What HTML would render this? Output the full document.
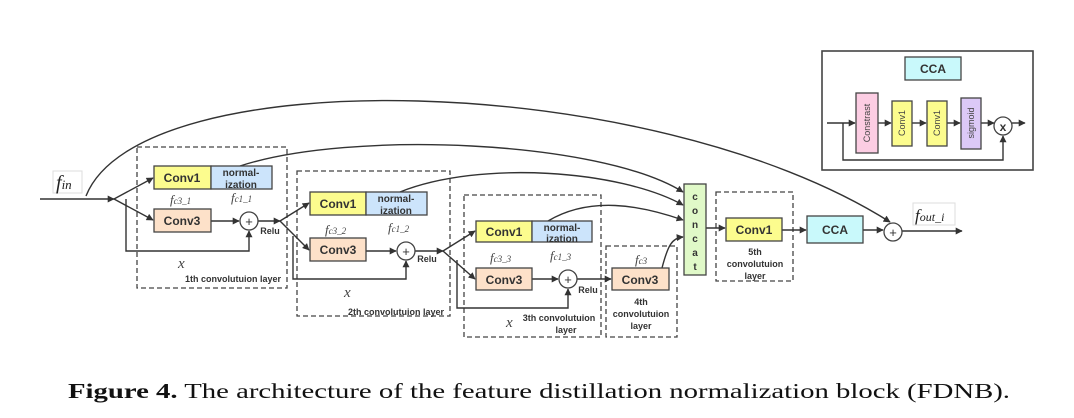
<!DOCTYPE html>
<html><head><meta charset="utf-8"><style>
body{margin:0;background:#fff;}
svg{display:block;}
.b{font-family:"Liberation Sans",sans-serif;font-weight:bold;fill:#333;}
.m{font-family:"Liberation Serif",serif;font-style:italic;fill:#444;}
</style></head><body>
<svg width="1074" height="418" viewBox="0 0 1074 418" xmlns="http://www.w3.org/2000/svg">
<defs><marker id="a" viewBox="0 0 10 10" refX="9" refY="5" markerWidth="9" markerHeight="7" orient="auto" markerUnits="userSpaceOnUse"><path d="M0,0L10,5L0,10z" fill="#333"/></marker></defs>
<g fill="none" stroke="#444" stroke-width="1.3" stroke-dasharray="5,3">
<rect x="137" y="147" width="150" height="141"/>
<rect x="297" y="171" width="153" height="145"/>
<rect x="464" y="195" width="137" height="142"/>
<rect x="606" y="246" width="71" height="91"/>
<rect x="716" y="192" width="77" height="89"/>
</g>
<g stroke="#333" stroke-width="1.4" fill="none">
<path d="M40,199H114" marker-end="url(#a)"/>
<path d="M114,199L153,178" marker-end="url(#a)"/>
<path d="M114,199L153,220" marker-end="url(#a)"/>
<path d="M126,199V251H249V231" marker-end="url(#a)"/>
<path d="M211,221H239" marker-end="url(#a)"/>
<path d="M258,221H280" marker-end="url(#a)"/>
<path d="M280,221L309,203" marker-end="url(#a)"/>
<path d="M280,221L309,250" marker-end="url(#a)"/>
<path d="M293,236V279H406V261" marker-end="url(#a)"/>
<path d="M366,251H396" marker-end="url(#a)"/>
<path d="M415,251H443" marker-end="url(#a)"/>
<path d="M443,251L475,231" marker-end="url(#a)"/>
<path d="M443,251L475,279" marker-end="url(#a)"/>
<path d="M457,260V308H568V289" marker-end="url(#a)"/>
<path d="M532,279H558" marker-end="url(#a)"/>
<path d="M577,279H611" marker-end="url(#a)"/>
<path d="M86,196C140,60 650,70 890,222" marker-end="url(#a)"/>
<path d="M240,166C350,130 600,140 683,192" marker-end="url(#a)"/>
<path d="M400,192C480,160 620,170 683,205" marker-end="url(#a)"/>
<path d="M548,221C590,196 640,205 683,220" marker-end="url(#a)"/>
<path d="M662,268C668,245 672,238 683,237" marker-end="url(#a)"/>
<path d="M706,228H725" marker-end="url(#a)"/>
<path d="M782,230H806" marker-end="url(#a)"/>
<path d="M863,230H883" marker-end="url(#a)"/>
<path d="M902,231H962" marker-end="url(#a)"/>
<path d="M827,123H855" marker-end="url(#a)"/>
<path d="M878,123H891" marker-end="url(#a)"/>
<path d="M912,123H926" marker-end="url(#a)"/>
<path d="M947,123H960" marker-end="url(#a)"/>
<path d="M981,123H994" marker-end="url(#a)"/>
<path d="M1012,123H1025" marker-end="url(#a)"/>
<path d="M843,123V160H1003V136" marker-end="url(#a)"/>
</g>
<g stroke="#444" stroke-width="1.3">
<rect x="154" y="166" width="57" height="23" fill="#fcfc8e"/>
<rect x="211" y="166" width="61" height="23" fill="#cce4fb"/>
<rect x="154" y="209" width="57" height="23" fill="#fde1c9"/>
<rect x="310" y="192" width="56" height="23" fill="#fcfc8e"/>
<rect x="366" y="192" width="61" height="23" fill="#cce4fb"/>
<rect x="310" y="238" width="56" height="23" fill="#fde1c9"/>
<rect x="476" y="221" width="56" height="21" fill="#fcfc8e"/>
<rect x="532" y="221" width="60" height="21" fill="#cce4fb"/>
<rect x="476" y="268" width="56" height="22" fill="#fde1c9"/>
<rect x="612" y="268" width="57" height="22" fill="#fde1c9"/>
<rect x="684" y="184" width="22" height="91" fill="#e0f9c8"/>
<rect x="726" y="218" width="56" height="23" fill="#fcfc8e"/>
<rect x="807" y="216" width="56" height="27" fill="#c9f9fb"/>
<rect x="822" y="51" width="211" height="119" fill="none" stroke-width="1.6"/>
<rect x="905" y="57" width="56" height="23" fill="#c9f9fb"/>
<rect x="856" y="93" width="22" height="60" fill="#fccde3"/>
<rect x="892" y="101" width="20" height="45" fill="#fcfc8e"/>
<rect x="927" y="101" width="20" height="45" fill="#fcfc8e"/>
<rect x="961" y="98" width="20" height="51" fill="#dcc9f7"/>
<circle cx="249" cy="221" r="9" fill="#fff"/>
<circle cx="406" cy="251" r="9" fill="#fff"/>
<circle cx="568" cy="279" r="9" fill="#fff"/>
<circle cx="893" cy="232" r="9" fill="#fff"/>
<circle cx="1003" cy="126" r="9" fill="#fff"/>
<rect x="53" y="171" width="29" height="22" fill="#fff" stroke="#ddd" stroke-width="1"/>
<rect x="913" y="203" width="42" height="22" fill="#fff" stroke="#ddd" stroke-width="1"/>
</g>
<g class="b" font-size="12" text-anchor="middle">
<text x="182" y="182">Conv1</text><text x="182" y="225">Conv3</text>
<text x="338" y="208">Conv1</text><text x="338" y="254">Conv3</text>
<text x="504" y="236">Conv1</text><text x="504" y="284">Conv3</text>
<text x="640" y="284">Conv3</text>
<text x="754" y="234">Conv1</text><text x="835" y="234">CCA</text>
<text x="933" y="73">CCA</text>
</g>
<g class="b" font-size="10" text-anchor="middle">
<text x="241" y="176">normal-</text><text x="241" y="188">ization</text>
<text x="396" y="202">normal-</text><text x="396" y="214">ization</text>
<text x="562" y="231">normal-</text><text x="562" y="242">ization</text>
<text x="695" y="200">c</text><text x="695" y="214">o</text><text x="695" y="228">n</text><text x="695" y="242">c</text><text x="695" y="256">a</text><text x="695" y="270">t</text>
</g>
<g class="b" font-size="9" text-anchor="middle">
<text x="270" y="234">Relu</text><text x="427" y="262">Relu</text><text x="588" y="293">Relu</text>
<text x="233" y="282">1th convolutuion layer</text>
<text x="396" y="315">2th convolutuion layer</text>
<text x="559" y="321">3th convolutuion</text><text x="566" y="333">layer</text>
<text x="641" y="305">4th</text><text x="641" y="317">convolutuion</text><text x="641" y="329">layer</text>
<text x="755" y="255">5th</text><text x="755" y="267">convolutuion</text><text x="755" y="279">layer</text>
</g>
<g font-family="Liberation Sans,sans-serif" font-size="9" fill="#444" text-anchor="middle">
<text transform="translate(870,123) rotate(-90)">Constrast</text>
<text transform="translate(905,123) rotate(-90)">Conv1</text>
<text transform="translate(940,123) rotate(-90)">Conv1</text>
<text transform="translate(974,123) rotate(-90)">sigmoid</text>
</g>
<g font-family="Liberation Sans,sans-serif" font-size="13" fill="#333" text-anchor="middle">
<text x="249" y="226">+</text><text x="406" y="256">+</text><text x="568" y="284">+</text><text x="893" y="237">+</text>
<text x="1003" y="131" font-weight="bold" font-size="12">x</text>
</g>
<g class="m">
<text x="56" y="189" font-size="20" fill="#222">f<tspan font-size="13">in</tspan></text>
<text x="915" y="221" font-size="17" fill="#222">f<tspan font-size="12">out_i</tspan></text>
<text x="170" y="204" font-size="13">f<tspan font-size="9">c3_1</tspan></text>
<text x="231" y="202" font-size="13">f<tspan font-size="9">c1_1</tspan></text>
<text x="325" y="234" font-size="13">f<tspan font-size="9">c3_2</tspan></text>
<text x="388" y="232" font-size="13">f<tspan font-size="9">c1_2</tspan></text>
<text x="490" y="262" font-size="13">f<tspan font-size="9">c3_3</tspan></text>
<text x="550" y="260" font-size="13">f<tspan font-size="9">c1_3</tspan></text>
<text x="635" y="264" font-size="13">f<tspan font-size="9">c3</tspan></text>
<text x="178" y="268" font-size="15">x</text>
<text x="344" y="297" font-size="15">x</text>
<text x="506" y="327" font-size="15">x</text>
</g>
<text x="68" y="398" font-family="Liberation Serif,serif" font-size="21" fill="#111" textLength="942" lengthAdjust="spacingAndGlyphs"><tspan font-weight="bold">Figure 4.</tspan> The architecture of the feature distillation normalization block (FDNB).</text>
</svg>
</body></html>
